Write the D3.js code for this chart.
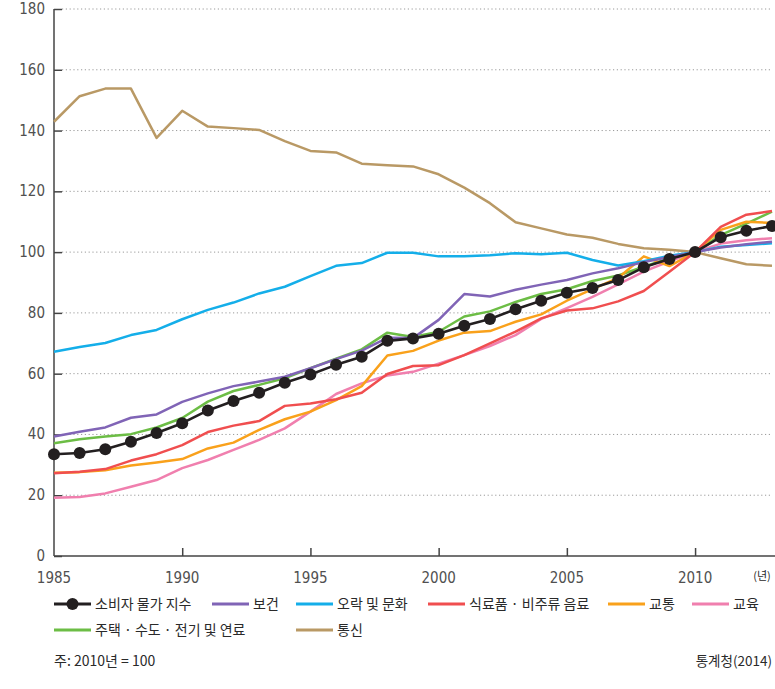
<!DOCTYPE html>
<html><head><meta charset="utf-8">
<script src="https://cdn.jsdelivr.net/npm/d3@7"></script>
<style>
body{margin:0;background:#fff;}
svg{display:block;}
.num{font-family:"Liberation Sans Narrow","DejaVu Sans Condensed","Roboto",sans-serif;fill:#505050;}
.kr{font-family:"Noto Sans CJK KR","Noto Sans",sans-serif;fill:#2a2a2a;}
</style></head>
<body>
<svg id="c" width="775" height="689"></svg>
<script>
const years = d3.range(1985, 2014);
const cpi = [33.5,33.9,35.1,37.6,40.5,43.7,47.9,51.0,53.7,57.0,59.7,62.9,65.6,70.8,71.6,73.1,75.8,78.0,81.2,84.0,86.6,88.2,90.8,95.0,97.7,100,104.9,107.0,108.6];
const health = [39.3,40.9,42.3,45.5,46.6,50.7,53.5,55.9,57.4,59.0,61.8,64.8,67.6,71.8,71.7,77.7,86.2,85.4,87.6,89.3,90.8,93.0,94.7,96.7,98.4,100,101.5,102.6,103.4];
const recreation = [67.2,68.8,70.1,72.7,74.4,77.9,81.0,83.4,86.4,88.6,92.1,95.5,96.4,99.8,99.8,98.6,98.6,99.0,99.6,99.3,99.8,97.4,95.6,97.0,98.8,100,101.8,102.3,102.9];
const food = [27.2,27.7,28.6,31.4,33.5,36.5,40.8,42.9,44.4,49.4,50.2,51.6,53.7,59.9,62.5,62.8,66.1,70.0,73.8,78.2,80.8,81.5,83.8,87.2,93.5,100,108.3,112.3,113.5];
const transport = [27.4,27.6,28.2,29.8,30.8,31.9,35.4,37.3,41.5,45.0,47.5,51.3,55.9,66.0,67.5,70.9,73.5,74.0,77.1,79.5,84.0,87.8,91.5,98.6,95.4,100,107.3,110.0,109.6];
const education = [19.2,19.4,20.6,22.8,25.0,28.9,31.6,34.9,38.2,42.0,47.5,53.3,56.8,59.4,60.6,63.3,66.1,69.1,72.7,78.0,81.6,85.3,89.4,93.6,97.0,100,102.8,103.9,104.6];
const housing = [37.1,38.4,39.3,40.1,42.3,45.4,50.8,54.3,56.3,58.5,61.8,64.9,68.0,73.5,72.1,73.8,78.8,80.5,83.6,86.2,87.8,90.5,92.3,95.2,98.0,100,105.6,109.4,113.3];
const telecom = [142.9,151.3,153.8,153.8,137.6,146.5,141.3,140.8,140.2,136.5,133.3,132.8,129.1,128.6,128.2,125.6,121.2,116.1,109.8,107.8,105.8,104.7,102.7,101.3,100.8,100,98.0,96.0,95.5];

const seriesNames = ["소비자 물가 지수","보건","오락 및 문화","식료품 · 비주류 음료","교통","교육","주택 · 수도 · 전기 및 연료","통신"];
const seriesData = [cpi,health,recreation,food,transport,education,housing,telecom];
const seriesColors = ["#231f20","#8064b6","#14aee9","#f04e4f","#f9a11b","#f07fae","#6cbd45","#b99965"];
const yTicks = [0,20,40,60,80,100,120,140,160,180];
const xTicks = [1985,1990,1995,2000,2005,2010];
const note = "주: 2010년 = 100";
const source = "통계청(2014)";
const unitLabel = "(년)";

const svg = d3.select("#c");
const x = d3.scaleLinear().domain([1985,2013]).range([54,772]);
const y = d3.scaleLinear().domain([0,180]).range([556,9]);

// gridlines
svg.append("g").selectAll("line").data(yTicks.filter(d=>d>0)).join("line")
  .attr("x1",62).attr("x2",770).attr("y1",d=>y(d)).attr("y2",d=>y(d))
  .attr("stroke","#9a9a9a").attr("stroke-width",1).attr("stroke-dasharray","1.2,2.6");

// y axis
const ya = svg.append("g").attr("transform","translate(54,0)")
  .call(d3.axisRight(y).tickValues(yTicks).tickSize(8).tickFormat(""));
ya.select(".domain").attr("stroke","#444").attr("stroke-width",1.5).attr("d","M0,556V9");
ya.selectAll(".tick line").attr("stroke","#444").attr("stroke-width",1.5);
svg.append("g").selectAll("text").data(yTicks).join("text").attr("class","num")
  .attr("x",45).attr("y",d=>y(d)+5).attr("text-anchor","end").attr("font-size",15).text(d=>d);

// x axis
const xa = svg.append("g").attr("transform","translate(0,556)")
  .call(d3.axisTop(x).tickValues(xTicks.slice(1)).tickSize(8).tickFormat(""));
xa.select(".domain").attr("stroke","#444").attr("stroke-width",1.5).attr("d","M54,0H775");
xa.selectAll(".tick line").attr("stroke","#444").attr("stroke-width",1.5);
svg.append("g").selectAll("text").data(xTicks).join("text").attr("class","num")
  .attr("x",d=>x(d)).attr("y",583).attr("text-anchor","middle").attr("font-size",15).text(d=>d);
svg.append("text").attr("class","kr").attr("x",762).attr("y",580).attr("text-anchor","middle")
  .attr("font-size",11).attr("fill","#444").text(unitLabel);

// lines (draw in reverse so CPI on top)
const line = d3.line().x((d,i)=>x(years[i])).y(d=>y(d));
const order = [7,6,5,4,3,2,1,0];
order.forEach(k=>{
  svg.append("path").datum(seriesData[k]).attr("d",line)
    .attr("fill","none").attr("stroke",seriesColors[k])
    .attr("stroke-width",k===0?2.6:2.5).attr("stroke-linejoin","round");
});
svg.append("g").selectAll("circle").data(cpi).join("circle")
  .attr("cx",(d,i)=>x(years[i])).attr("cy",d=>y(d)).attr("r",6).attr("fill","#231f20");

// legend
const legendPos = [[54,604],[212,604],[296,604],[428,604],[608,604],[692,604],[54,630],[296,630]];
legendPos.forEach((p,k)=>{
  const g = svg.append("g");
  g.append("line").attr("x1",p[0]).attr("x2",p[0]+37).attr("y1",p[1]).attr("y2",p[1])
    .attr("stroke",seriesColors[k]).attr("stroke-width",3);
  if(k===0) g.append("circle").attr("cx",p[0]+18.5).attr("cy",p[1]).attr("r",6).attr("fill","#231f20");
  g.append("text").attr("class","kr").attr("x",p[0]+41).attr("y",p[1]+5)
    .attr("font-size",14).text(seriesNames[k]);
});
svg.append("text").attr("class","kr").attr("x",54).attr("y",666).attr("font-size",14).text(note);
svg.append("text").attr("class","kr").attr("x",772).attr("y",666).attr("text-anchor","end").attr("font-size",13.5).text(source);
</script>
</body></html>
